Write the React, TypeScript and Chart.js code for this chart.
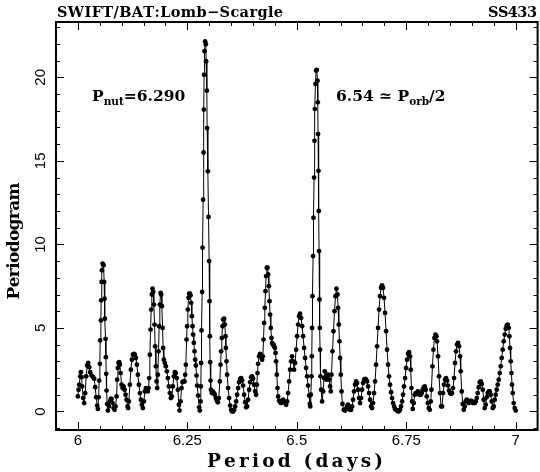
import React, { useEffect, useRef } from 'react';
import { Chart, registerables } from 'chart.js';
Chart.register(...registerables);

// [period (days), Lomb-Scargle power]
const periodogram: [number, number][] = [
  [6.0000, 0.9], [6.0016, 1.3], [6.0030, 1.6], [6.0053, 2.1], [6.0068, 2.35], [6.0084, 2.05], [6.0098, 1.5], [6.0121, 0.8], [6.0144, 0.5], [6.0167, 1.1],
  [6.0189, 2.1], [6.0212, 2.75], [6.0235, 2.9], [6.0258, 2.65], [6.0281, 2.35], [6.0313, 2.15], [6.0349, 2.05], [6.0372, 1.95], [6.0395, 1.45], [6.0418, 0.85],
  [6.0441, 0.35], [6.0457, 0.15], [6.0473, 0.85], [6.0486, 1.85], [6.0502, 2.85], [6.0509, 4.25], [6.0525, 5.45], [6.0532, 6.65], [6.0541, 7.75], [6.0548, 8.45],
  [6.0564, 8.85], [6.0587, 8.75], [6.0600, 7.75], [6.0610, 6.75], [6.0616, 5.55], [6.0632, 4.35], [6.0639, 3.25], [6.0646, 2.25], [6.0655, 1.25], [6.0669, 0.45],
  [6.0685, 0.05], [6.0708, 0.3], [6.0731, 0.6], [6.0753, 0.75], [6.0769, 0.75], [6.0792, 0.5], [6.0815, 0.2], [6.0838, 0.1], [6.0861, 0.3], [6.0884, 0.9],
  [6.0897, 1.9], [6.0913, 2.6], [6.0929, 2.9], [6.0943, 2.95], [6.0959, 2.8], [6.0975, 2.3], [6.0998, 1.6], [6.1021, 1.4], [6.1043, 1.5], [6.1066, 1.3],
  [6.1089, 1.0], [6.1112, 0.7], [6.1135, 0.3], [6.1148, 0.2], [6.1164, 0.6], [6.1187, 1.6], [6.1210, 2.5], [6.1233, 3.1], [6.1256, 3.4], [6.1279, 3.45],
  [6.1301, 3.4], [6.1324, 3.2], [6.1347, 2.8], [6.1370, 2.2], [6.1393, 1.6], [6.1416, 1.1], [6.1438, 0.7], [6.1461, 0.4], [6.1484, 0.2], [6.1507, 0.6],
  [6.1530, 1.2], [6.1553, 1.4], [6.1575, 1.3], [6.1598, 1.2], [6.1614, 1.4], [6.1628, 2.0], [6.1644, 3.4], [6.1660, 4.9], [6.1674, 6.1], [6.1689, 7.0],
  [6.1705, 7.35], [6.1719, 7.15], [6.1735, 6.4], [6.1751, 5.2], [6.1765, 3.9], [6.1781, 2.7], [6.1797, 1.8], [6.1811, 1.4], [6.1826, 2.2], [6.1842, 3.6],
  [6.1856, 5.1], [6.1872, 6.4], [6.1888, 7.1], [6.1902, 7.0], [6.1918, 6.3], [6.1934, 5.0], [6.1947, 3.8], [6.1963, 3.1], [6.1986, 2.9], [6.2009, 2.7],
  [6.2032, 2.4], [6.2055, 2.0], [6.2078, 1.5], [6.2100, 1.1], [6.2123, 0.8], [6.2146, 0.9], [6.2169, 1.5], [6.2192, 2.1], [6.2215, 2.35], [6.2237, 2.3],
  [6.2260, 2.0], [6.2283, 1.3], [6.2306, 0.4], [6.2322, 0.05], [6.2345, 0.6], [6.2368, 1.4], [6.2390, 1.75], [6.2413, 1.8], [6.2436, 1.8], [6.2450, 2.2],
  [6.2466, 2.8], [6.2482, 4.3], [6.2495, 5.1], [6.2511, 6.1], [6.2527, 6.8], [6.2541, 7.05], [6.2557, 7.05], [6.2573, 6.95], [6.2587, 6.5], [6.2603, 5.7],
  [6.2619, 5.1], [6.2632, 4.6], [6.2648, 4.1], [6.2664, 3.6], [6.2678, 3.1], [6.2694, 2.75], [6.2710, 2.15], [6.2724, 1.55], [6.2747, 0.95], [6.2769, 0.25],
  [6.2785, 0.05], [6.2801, 0.6], [6.2808, 1.5], [6.2815, 2.9], [6.2824, 4.85], [6.2838, 7.15], [6.2847, 9.8], [6.2861, 12.67], [6.2870, 15.5], [6.2877, 18.07],
  [6.2884, 20.16], [6.2893, 21.56], [6.2906, 22.15], [6.2922, 21.98], [6.2929, 20.96], [6.2945, 19.2], [6.2952, 16.96], [6.2968, 14.37], [6.2984, 11.64], [6.2998, 9.0],
  [6.3007, 6.6], [6.3014, 4.5], [6.3021, 2.95], [6.3030, 1.85], [6.3037, 1.3], [6.3059, 1.1], [6.3082, 1.2], [6.3105, 1.1], [6.3128, 1.0], [6.3151, 0.8],
  [6.3174, 0.65], [6.3196, 0.55], [6.3219, 0.8], [6.3242, 1.8], [6.3258, 2.8], [6.3272, 3.6], [6.3288, 4.4], [6.3304, 5.1], [6.3317, 5.5], [6.3340, 5.55],
  [6.3356, 5.2], [6.3372, 4.5], [6.3379, 3.8], [6.3395, 3.0], [6.3409, 2.2], [6.3432, 1.4], [6.3454, 0.8], [6.3477, 0.35], [6.3500, 0.1], [6.3523, 0.0],
  [6.3546, 0.0], [6.3569, 0.1], [6.3591, 0.3], [6.3614, 0.6], [6.3637, 1.0], [6.3660, 1.4], [6.3683, 1.75], [6.3705, 1.95], [6.3728, 2.0], [6.3751, 1.85],
  [6.3774, 1.55], [6.3797, 1.0], [6.3820, 0.55], [6.3842, 0.25], [6.3865, 0.3], [6.3888, 0.7], [6.3911, 1.3], [6.3934, 1.75], [6.3957, 2.05], [6.3979, 2.1],
  [6.4002, 1.95], [6.4025, 1.6], [6.4048, 1.2], [6.4071, 1.0], [6.4087, 1.6], [6.4103, 2.3], [6.4116, 2.85], [6.4139, 3.3], [6.4162, 3.45], [6.4185, 3.35],
  [6.4208, 3.1], [6.4224, 3.3], [6.4240, 4.3], [6.4253, 5.3], [6.4269, 6.2], [6.4285, 7.2], [6.4299, 8.1], [6.4315, 8.6], [6.4331, 8.6], [6.4345, 8.2],
  [6.4361, 7.5], [6.4377, 6.6], [6.4390, 5.8], [6.4406, 5.0], [6.4422, 4.4], [6.4436, 4.1], [6.4452, 4.0], [6.4468, 4.0], [6.4482, 3.9], [6.4498, 3.8],
  [6.4514, 3.5], [6.4527, 3.0], [6.4543, 2.2], [6.4559, 1.4], [6.4573, 0.9], [6.4596, 0.65], [6.4619, 0.55], [6.4642, 0.5], [6.4664, 0.6], [6.4687, 0.7],
  [6.4710, 0.6], [6.4733, 0.5], [6.4756, 0.4], [6.4779, 0.6], [6.4801, 1.1], [6.4824, 1.8], [6.4847, 2.5], [6.4870, 3.0], [6.4893, 3.3], [6.4916, 3.0],
  [6.4938, 2.5], [6.4961, 2.9], [6.4984, 3.7], [6.5007, 4.5], [6.5030, 5.2], [6.5053, 5.7], [6.5075, 5.85], [6.5098, 5.6], [6.5121, 5.1], [6.5144, 4.5],
  [6.5167, 3.8], [6.5190, 3.2], [6.5212, 2.6], [6.5235, 2.1], [6.5258, 1.55], [6.5281, 0.95], [6.5297, 0.45], [6.5308, 0.3], [6.5320, 1.0], [6.5336, 2.1],
  [6.5342, 3.3], [6.5349, 5.0], [6.5358, 6.9], [6.5372, 9.3], [6.5381, 11.6], [6.5395, 14.0], [6.5404, 16.2], [6.5411, 18.1], [6.5427, 19.6], [6.5441, 20.4],
  [6.5457, 20.45], [6.5473, 19.8], [6.5479, 18.5], [6.5486, 16.6], [6.5495, 14.4], [6.5502, 12.0], [6.5509, 9.6], [6.5518, 6.7], [6.5525, 5.0], [6.5532, 3.7],
  [6.5541, 2.1], [6.5555, 1.3], [6.5578, 0.6], [6.5601, 1.2], [6.5623, 2.0], [6.5639, 2.4], [6.5662, 2.1], [6.5678, 1.9], [6.5701, 2.1], [6.5715, 2.2],
  [6.5738, 1.9], [6.5760, 1.5], [6.5776, 1.2], [6.5792, 2.2], [6.5815, 3.6], [6.5838, 4.8], [6.5861, 6.0], [6.5884, 6.9], [6.5906, 7.35], [6.5929, 7.0],
  [6.5943, 6.2], [6.5959, 5.2], [6.5975, 4.2], [6.5989, 3.2], [6.6005, 2.2], [6.6021, 1.2], [6.6043, 0.45], [6.6073, 0.1], [6.6103, 0.05], [6.6126, 0.15],
  [6.6148, 0.3], [6.6171, 0.4], [6.6194, 0.3], [6.6217, 0.1], [6.6240, 0.1], [6.6263, 0.3], [6.6285, 0.7], [6.6308, 1.2], [6.6331, 1.6], [6.6354, 1.8],
  [6.6377, 1.7], [6.6400, 1.3], [6.6422, 0.8], [6.6445, 0.5], [6.6468, 0.8], [6.6491, 1.3], [6.6514, 1.7], [6.6537, 1.9], [6.6559, 1.95], [6.6582, 1.9],
  [6.6605, 1.8], [6.6628, 1.5], [6.6651, 1.1], [6.6674, 0.7], [6.6696, 0.3], [6.6719, 0.2], [6.6742, 0.5], [6.6765, 1.1], [6.6788, 1.8], [6.6811, 2.8],
  [6.6833, 3.9], [6.6856, 5.0], [6.6879, 6.1], [6.6902, 6.9], [6.6925, 7.4], [6.6948, 7.55], [6.6970, 7.4], [6.6993, 6.8], [6.7016, 5.9], [6.7039, 4.8],
  [6.7062, 3.7], [6.7085, 2.8], [6.7107, 2.1], [6.7130, 1.6], [6.7153, 1.15], [6.7176, 0.8], [6.7199, 0.5], [6.7222, 0.3], [6.7244, 0.15], [6.7267, 0.1],
  [6.7290, 0.05], [6.7313, 0.0], [6.7336, 0.02], [6.7359, 0.1], [6.7381, 0.3], [6.7404, 0.6], [6.7427, 1.0], [6.7450, 1.5], [6.7473, 2.0], [6.7496, 2.6],
  [6.7518, 3.1], [6.7541, 3.45], [6.7564, 3.55], [6.7587, 3.3], [6.7603, 2.5], [6.7619, 1.4], [6.7633, 0.6], [6.7648, 0.15], [6.7671, 0.5], [6.7694, 1.0],
  [6.7717, 1.1], [6.7740, 1.05], [6.7763, 1.2], [6.7785, 1.15], [6.7808, 1.0], [6.7831, 1.0], [6.7854, 1.1], [6.7877, 1.3], [6.7900, 1.45], [6.7922, 1.5],
  [6.7945, 1.3], [6.7968, 0.9], [6.7991, 0.5], [6.8014, 0.2], [6.8037, 0.1], [6.8059, 0.6], [6.8075, 1.3], [6.8098, 2.7], [6.8121, 3.7], [6.8144, 4.4],
  [6.8167, 4.6], [6.8190, 4.5], [6.8203, 4.2], [6.8226, 3.3], [6.8249, 2.1], [6.8272, 1.1], [6.8295, 0.3], [6.8318, 0.3], [6.8340, 1.1], [6.8363, 1.6],
  [6.8386, 1.9], [6.8409, 2.0], [6.8432, 1.85], [6.8455, 1.55], [6.8477, 1.25], [6.8500, 1.1], [6.8523, 1.05], [6.8546, 1.1], [6.8569, 1.4], [6.8592, 2.0],
  [6.8614, 2.9], [6.8637, 3.6], [6.8660, 4.0], [6.8683, 4.1], [6.8706, 3.9], [6.8729, 3.3], [6.8744, 2.4], [6.8767, 1.2], [6.8790, 0.45], [6.8813, 0.1],
  [6.8836, 0.3], [6.8858, 0.6], [6.8881, 0.7], [6.8904, 0.6], [6.8927, 0.5], [6.8950, 0.6], [6.8973, 0.65], [6.8995, 0.6], [6.9018, 0.5], [6.9041, 0.55],
  [6.9064, 0.5], [6.9087, 0.6], [6.9110, 0.8], [6.9132, 1.1], [6.9155, 1.45], [6.9178, 1.75], [6.9201, 1.8], [6.9224, 1.65], [6.9247, 1.3], [6.9269, 0.7],
  [6.9292, 0.2], [6.9315, 0.4], [6.9338, 0.85], [6.9361, 1.1], [6.9384, 1.2], [6.9406, 1.2], [6.9429, 1.0], [6.9452, 0.6], [6.9475, 0.2], [6.9498, 0.3],
  [6.9521, 0.7], [6.9543, 1.0], [6.9566, 1.3], [6.9589, 1.6], [6.9612, 1.9], [6.9635, 2.3], [6.9658, 2.7], [6.9680, 3.2], [6.9703, 3.7], [6.9726, 4.2],
  [6.9749, 4.6], [6.9772, 4.95], [6.9795, 5.15], [6.9817, 5.2], [6.9840, 5.0], [6.9856, 4.5], [6.9870, 3.8], [6.9886, 3.0], [6.9902, 2.3], [6.9916, 1.6],
  [6.9932, 1.1], [6.9954, 0.5], [6.9977, 0.2], [7.0000, 0.05],
];

const xMajorTicks = [6, 6.25, 6.5, 6.75, 7];
const xTickLabels = ['6', '6.25', '6.5', '6.75', '7'];
const yMajorTicks = [0, 5, 10, 15, 20];
const yTickLabels = ['0', '5', '10', '15', '20'];
const xRange = [5.95, 7.05];
const yRange = [-1.11, 23.31];
const xMinorStep = 0.05;
const yMinorStep = 1;

const titleLeft = 'SWIFT/BAT:Lomb\u2212Scargle';
const titleRight = 'SS433';
const xTitle = 'Period (days)';
const yTitle = 'Periodogram';

const SERIF = '"DejaVu Serif", "Liberation Serif", serif';
const SANS = '"Liberation Sans", "DejaVu Sans", sans-serif';

// draw text with a given font size, spreading letters to span a given width
function spacedText(ctx: CanvasRenderingContext2D, text: string, x: number, y: number, width: number, size: number, align: 'left' | 'center' | 'right') {
  ctx.font = `bold ${size}px ${SERIF}`;
  ctx.textAlign = 'left';
  const chars = Array.from(text);
  const widths = chars.map((c) => ctx.measureText(c).width);
  const total = widths.reduce((a, b) => a + b, 0);
  const gap = chars.length > 1 ? (width - total) / (chars.length - 1) : 0;
  let cx = align === 'left' ? x : align === 'right' ? x - width : x - width / 2;
  chars.forEach((c, i) => {
    ctx.fillText(c, cx, y);
    cx += widths[i] + gap;
  });
}

function drawRuns(ctx: CanvasRenderingContext2D, x: number, y: number, runs: { t: string; size: number; dy: number }[]) {
  let cx = x;
  ctx.textAlign = 'left';
  ctx.textBaseline = 'alphabetic';
  for (const r of runs) {
    ctx.font = `bold ${r.size}px ${SERIF}`;
    ctx.fillText(r.t, cx, y + r.dy);
    cx += ctx.measureText(r.t).width;
  }
}

const framePlugin = {
  id: 'pgframe',
  afterDraw(chart: any) {
    const ctx: CanvasRenderingContext2D = chart.ctx;
    const { left, right, top, bottom } = chart.chartArea;
    const xs = chart.scales.x;
    const ys = chart.scales.y;
    ctx.save();
    ctx.strokeStyle = '#000';
    ctx.fillStyle = '#000';
    ctx.lineWidth = 1;
    ctx.beginPath();
    for (let v = xRange[0]; v <= xRange[1] + 1e-9; v += xMinorStep) {
      const isMajor = xMajorTicks.some((m) => Math.abs(m - v) < 1e-6);
      const len = isMajor ? 8 : 4;
      const px = Math.round(xs.getPixelForValue(v)) + 0.5;
      if (px <= left + 1 || px >= right - 1) continue;
      ctx.moveTo(px, bottom);
      ctx.lineTo(px, bottom - len);
      ctx.moveTo(px, top);
      ctx.lineTo(px, top + len);
    }
    for (let v = -1; v <= 23 + 1e-9; v += yMinorStep) {
      const isMajor = yMajorTicks.some((m) => Math.abs(m - v) < 1e-6);
      const len = isMajor ? 8 : 4;
      const py = Math.round(ys.getPixelForValue(v)) + 0.5;
      if (py <= top + 1 || py >= bottom - 1) continue;
      ctx.moveTo(left, py);
      ctx.lineTo(left + len, py);
      ctx.moveTo(right, py);
      ctx.lineTo(right - len, py);
    }
    ctx.stroke();
    ctx.lineWidth = 2;
    ctx.strokeRect(left, top, right - left, bottom - top);

    ctx.font = `15px ${SANS}`;
    ctx.textAlign = 'center';
    ctx.textBaseline = 'middle';
    xMajorTicks.forEach((v, i) => {
      ctx.fillText(xTickLabels[i], xs.getPixelForValue(v), 441);
    });
    yMajorTicks.forEach((v, i) => {
      ctx.save();
      ctx.translate(41, ys.getPixelForValue(v));
      ctx.rotate(-Math.PI / 2);
      ctx.fillText(yTickLabels[i], 0, 0);
      ctx.restore();
    });

    ctx.textBaseline = 'alphabetic';
    spacedText(ctx, titleLeft, 57, 17, 226, 14.5, 'left');
    spacedText(ctx, titleRight, 537, 17, 49, 14.5, 'right');
    spacedText(ctx, xTitle, 295, 467, 176, 18.5, 'center');
    ctx.save();
    ctx.translate(19, 241);
    ctx.rotate(-Math.PI / 2);
    spacedText(ctx, yTitle, 0, 0, 117, 17, 'center');
    ctx.restore();

    drawRuns(ctx, 92, 101, [
      { t: 'P', size: 15.5, dy: 0 },
      { t: 'nut', size: 10.5, dy: 4 },
      { t: '=6.290', size: 15.5, dy: 0 },
    ]);
    drawRuns(ctx, 336, 101, [
      { t: '6.54 \u2243 P', size: 15.5, dy: 0 },
      { t: 'orb', size: 10.5, dy: 4 },
      { t: '/2', size: 15.5, dy: 0 },
    ]);
    ctx.restore();
  },
};

export default function App() {
  const canvasRef = useRef<HTMLCanvasElement | null>(null);
  useEffect(() => {
    const canvas = canvasRef.current;
    if (!canvas) return;
    const chart = new Chart(canvas, {
      type: 'line',
      data: {
        datasets: [
          {
            data: periodogram.map(([x, y]) => ({ x, y })),
            borderColor: '#000',
            borderWidth: 1,
            pointRadius: 2.4,
            pointHoverRadius: 2.4,
            pointBackgroundColor: '#000',
            pointBorderWidth: 0,
            tension: 0,
            clip: false as any,
          },
        ],
      },
      options: {
        animation: false,
        responsive: false,
        devicePixelRatio: 1,
        events: [],
        layout: { padding: { left: 56, right: 2, top: 22, bottom: 42 } },
        plugins: { legend: { display: false }, tooltip: { enabled: false } },
        scales: {
          x: { type: 'linear', min: xRange[0], max: xRange[1], display: false },
          y: { type: 'linear', min: yRange[0], max: yRange[1], display: false },
        },
      },
      plugins: [framePlugin],
    });
    return () => chart.destroy();
  }, []);
  return (
    <div style={{ position: 'absolute', left: 0, top: 0, width: 540, height: 472, background: '#fff' }}>
      <canvas ref={canvasRef} width={540} height={472} style={{ width: 540, height: 472 }} />
    </div>
  );
}
